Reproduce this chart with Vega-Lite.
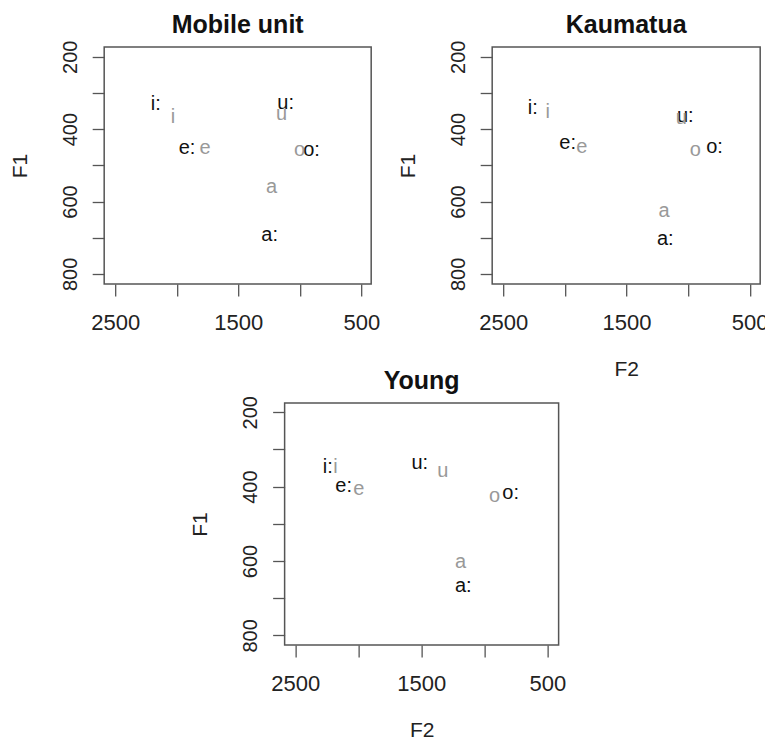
{
  "$schema": "https://vega.github.io/schema/vega-lite/v6.json",
  "background": "white",
  "padding": {"left": 8, "top": 12, "right": 0, "bottom": 0},
  "config": {
    "font": "Liberation Sans",
    "view": {"stroke": "#555555", "strokeWidth": 1.5},
    "axis": {"domain": false, "grid": false, "tickColor": "#555555", "tickSize": 12, "tickWidth": 1.3, "labelColor": "#222222", "titleFontWeight": "normal", "titleFontSize": 21, "titleColor": "#222222", "labelOverlap": false, "labelFlush": false},
    "title": {"fontSize": 25, "fontWeight": "bold", "offset": 2, "frame": "group", "color": "#111111"}
  },
  "datasets": {
    "vowels": [
      {"group": "Mobile unit", "label": "i:", "kind": "long", "F2": 2170, "F1": 330},
      {"group": "Mobile unit", "label": "i", "kind": "short", "F2": 2030, "F1": 366},
      {"group": "Mobile unit", "label": "e:", "kind": "long", "F2": 1917, "F1": 452},
      {"group": "Mobile unit", "label": "e", "kind": "short", "F2": 1771, "F1": 452},
      {"group": "Mobile unit", "label": "u:", "kind": "long", "F2": 1115, "F1": 328},
      {"group": "Mobile unit", "label": "u", "kind": "short", "F2": 1148, "F1": 358},
      {"group": "Mobile unit", "label": "o:", "kind": "long", "F2": 905, "F1": 457},
      {"group": "Mobile unit", "label": "o", "kind": "short", "F2": 1002, "F1": 457},
      {"group": "Mobile unit", "label": "a:", "kind": "long", "F2": 1245, "F1": 692},
      {"group": "Mobile unit", "label": "a", "kind": "short", "F2": 1229, "F1": 559},
      {"group": "Kaumatua", "label": "i:", "kind": "long", "F2": 2261, "F1": 342},
      {"group": "Kaumatua", "label": "i", "kind": "short", "F2": 2139, "F1": 353},
      {"group": "Kaumatua", "label": "e:", "kind": "long", "F2": 1977, "F1": 437},
      {"group": "Kaumatua", "label": "e", "kind": "short", "F2": 1863, "F1": 450},
      {"group": "Kaumatua", "label": "u:", "kind": "long", "F2": 1023, "F1": 365},
      {"group": "Kaumatua", "label": "u", "kind": "short", "F2": 1055, "F1": 368},
      {"group": "Kaumatua", "label": "o:", "kind": "long", "F2": 785, "F1": 448},
      {"group": "Kaumatua", "label": "o", "kind": "short", "F2": 941, "F1": 459},
      {"group": "Kaumatua", "label": "a:", "kind": "long", "F2": 1185, "F1": 704},
      {"group": "Kaumatua", "label": "a", "kind": "short", "F2": 1196, "F1": 625},
      {"group": "Young", "label": "i:", "kind": "long", "F2": 2243, "F1": 346},
      {"group": "Young", "label": "i", "kind": "short", "F2": 2182, "F1": 346},
      {"group": "Young", "label": "e:", "kind": "long", "F2": 2116, "F1": 398},
      {"group": "Young", "label": "e", "kind": "short", "F2": 1997, "F1": 406},
      {"group": "Young", "label": "u:", "kind": "long", "F2": 1512, "F1": 336},
      {"group": "Young", "label": "u", "kind": "short", "F2": 1329, "F1": 359},
      {"group": "Young", "label": "o:", "kind": "long", "F2": 791, "F1": 416},
      {"group": "Young", "label": "o", "kind": "short", "F2": 918, "F1": 426},
      {"group": "Young", "label": "a:", "kind": "long", "F2": 1167, "F1": 667},
      {"group": "Young", "label": "a", "kind": "short", "F2": 1188, "F1": 602}
    ]
  },
  "center": true,
  "spacing": -13,
  "vconcat": [
    {
      "spacing": 15,
      "hconcat": [
        {
          "title": "Mobile unit",
          "width": 267, "height": 237,
          "data": {"name": "vowels"},
          "transform": [{"filter": "datum.group == 'Mobile unit'"}],
          "mark": {"type": "text", "fontSize": 20},
          "encoding": {
            "x": {"field": "F2", "type": "quantitative", "scale": {"domain": [420, 2590], "reverse": true, "nice": false, "zero": false},
                  "axis": {"values": [2500, 2000, 1500, 1000, 500], "format": "d", "labelExpr": "datum.value % 1000 == 500 ? datum.label : ''", "labelFontSize": 22, "labelPadding": 16, "title": null}},
            "y": {"field": "F1", "type": "quantitative", "scale": {"domain": [173, 828], "reverse": true, "nice": false, "zero": false},
                  "axis": {"values": [200, 300, 400, 500, 600, 700, 800], "format": "d", "labelExpr": "datum.value % 200 == 0 ? datum.label : ''", "labelAngle": -90, "labelAlign": "center", "labelBaseline": "bottom", "labelFontSize": 20, "labelPadding": 12, "title": "F1", "titlePadding": 30}},
            "text": {"field": "label"},
            "color": {"field": "kind", "type": "nominal", "scale": {"domain": ["long", "short"], "range": ["#111111", "#999999"]}, "legend": null}
          }
        },
        {
          "title": "Kaumatua",
          "width": 268, "height": 237,
          "data": {"name": "vowels"},
          "transform": [{"filter": "datum.group == 'Kaumatua'"}],
          "mark": {"type": "text", "fontSize": 20},
          "encoding": {
            "x": {"field": "F2", "type": "quantitative", "scale": {"domain": [415, 2590], "reverse": true, "nice": false, "zero": false},
                  "axis": {"values": [2500, 2000, 1500, 1000, 500], "format": "d", "labelExpr": "datum.value % 1000 == 500 ? datum.label : ''", "labelFontSize": 22, "labelPadding": 16, "title": "F2", "titlePadding": 25}},
            "y": {"field": "F1", "type": "quantitative", "scale": {"domain": [173, 828], "reverse": true, "nice": false, "zero": false},
                  "axis": {"values": [200, 300, 400, 500, 600, 700, 800], "format": "d", "labelExpr": "datum.value % 200 == 0 ? datum.label : ''", "labelAngle": -90, "labelAlign": "center", "labelBaseline": "bottom", "labelFontSize": 20, "labelPadding": 12, "title": "F1", "titlePadding": 30}},
            "text": {"field": "label"},
            "color": {"field": "kind", "type": "nominal", "scale": {"domain": ["long", "short"], "range": ["#111111", "#999999"]}, "legend": null}
          }
        }
      ]
    },
    {
      "title": "Young",
      "width": 274, "height": 242,
      "data": {"name": "vowels"},
      "transform": [{"filter": "datum.group == 'Young'"}],
      "resolve": {"axis": {"y": "independent"}},
      "layer": [
        {
          "mark": {"type": "text", "fontSize": 20},
          "encoding": {
            "x": {"field": "F2", "type": "quantitative", "scale": {"domain": [410, 2585], "reverse": true, "nice": false, "zero": false},
                  "axis": {"values": [2500, 2000, 1500, 1000, 500], "format": "d", "labelExpr": "datum.value % 1000 == 500 ? datum.label : ''", "labelFontSize": 22, "labelPadding": 16, "title": "F2", "titlePadding": 25}},
            "y": {"field": "F1", "type": "quantitative", "scale": {"domain": [175, 826], "reverse": true, "nice": false, "zero": false},
                  "axis": {"values": [200, 300, 400, 500, 600, 700, 800], "format": "d", "labelExpr": "datum.value % 200 == 0 ? datum.label : ''", "labelAngle": -90, "labelAlign": "center", "labelBaseline": "bottom", "labelFontSize": 20, "labelPadding": 12, "title": "F1", "titlePadding": 30}},
            "text": {"field": "label"},
            "color": {"field": "kind", "type": "nominal", "scale": {"domain": ["long", "short"], "range": ["#111111", "#999999"]}, "legend": null}
          }
        },
        {
          "mark": {"type": "point", "opacity": 0},
          "encoding": {
            "x": {"field": "F2", "type": "quantitative"},
            "y": {"field": "F1", "type": "quantitative",
                  "axis": {"orient": "right", "ticks": false, "labels": false, "domain": false, "minExtent": 0, "maxExtent": 0, "title": "F1", "titleOpacity": 0, "titlePadding": 8}}
          }
        }
      ]
    }
  ]
}
